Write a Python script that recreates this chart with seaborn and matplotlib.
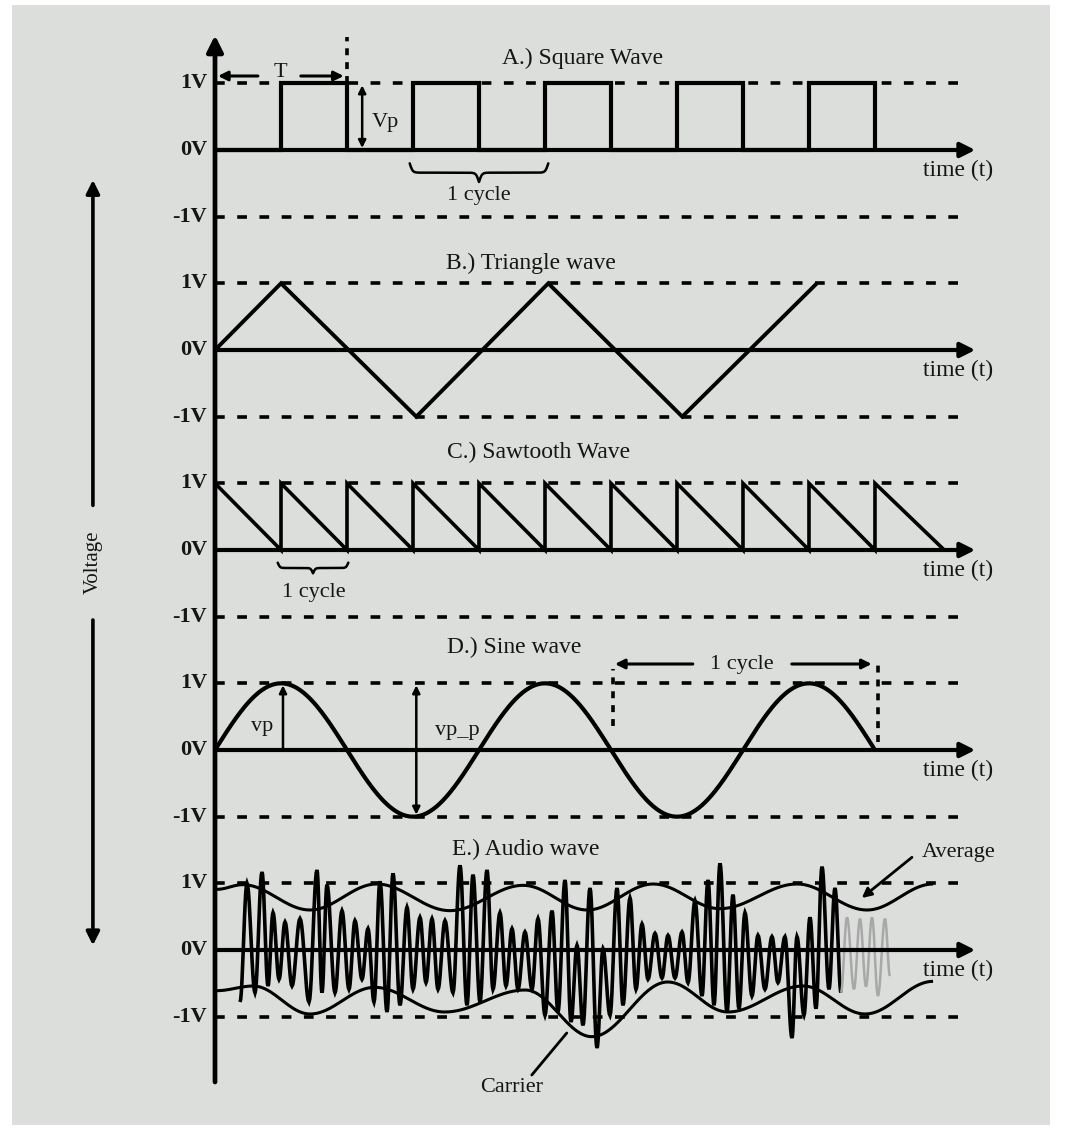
import numpy as np
import matplotlib
matplotlib.use("Agg")
import matplotlib.pyplot as plt
import seaborn as sns

# ---------------- data ----------------
panel_titles = ["A.) Square Wave", "B.) Triangle wave", "C.) Sawtooth Wave",
                "D.) Sine wave", "E.) Audio wave"]
level_labels = ["1V", "0V", "-1V"]
level_values = [1, 0, -1]
panel_offsets = [0, -3, -6, -9, -12]

square_t = [0, 1, 1, 2, 2, 3, 3, 4, 4, 5, 5, 6, 6, 7, 7, 8, 8, 9, 9, 10, 10]
square_v = [0, 0, 1, 1, 0, 0, 1, 1, 0, 0, 1, 1, 0, 0, 1, 1, 0, 0, 1, 1, 0]

triangle_t = [0, 1.0, 3.05, 5.05, 7.08, 9.12]
triangle_v = [0, 1, -1, 1, -1, 1]

saw_t = [0, 1, 1, 2, 2, 3, 3, 4, 4, 5, 5, 6, 6, 7, 7, 8, 8, 9, 9, 10, 10, 11.05]
saw_v = [1, 0, 1, 0, 1, 0, 1, 0, 1, 0, 1, 0, 1, 0, 1, 0, 1, 0, 1, 0, 1, 0]

sine_amplitude = 1.0
sine_period = 4.0
sine_end = 10.0

# audio wave: alternating troughs / peaks (time units, volts)
audio_t = [0.379, 0.485, 0.606, 0.712, 0.803, 0.879, 0.970, 1.061, 1.167, 1.288,
           1.424, 1.545, 1.621, 1.697, 1.818, 1.924, 2.030, 2.121, 2.227, 2.318,
           2.409, 2.500, 2.606, 2.697, 2.803, 2.909, 3.000, 3.106, 3.197, 3.288,
           3.379, 3.485, 3.606, 3.712, 3.818, 3.909, 4.015, 4.121, 4.212, 4.318,
           4.409, 4.500, 4.591, 4.697, 4.803, 4.894, 5.000, 5.106, 5.197, 5.303,
           5.394, 5.485, 5.576, 5.682, 5.788, 5.879, 5.985, 6.091, 6.182, 6.288,
           6.379, 6.470, 6.561, 6.667, 6.773, 6.864, 6.970, 7.076, 7.167, 7.273,
           7.379, 7.470, 7.561, 7.652, 7.758, 7.848, 7.939, 8.030, 8.136, 8.227,
           8.333, 8.439, 8.530, 8.636, 8.742, 8.818, 8.924, 9.015, 9.106, 9.197,
           9.303, 9.394, 9.485]
audio_v = [-0.78, 1.00, -0.64, 1.17, -0.54, 0.56, -0.44, 0.42, -0.54, 0.47,
           -0.78, 1.20, -0.64, 0.98, -0.64, 0.59, -0.59, 0.44, -0.44, 0.32,
           -0.78, 1.03, -0.93, 1.15, -0.83, 0.64, -0.59, 0.49, -0.49, 0.47,
           -0.59, 0.44, -0.64, 1.27, -0.83, 1.13, -0.78, 1.20, -0.59, 0.56,
           -0.54, 0.32, -0.59, 0.27, -0.59, 0.47, -0.98, 0.59, -0.93, 1.05,
           -1.08, 0.07, -1.13, 0.93, -1.47, 0.02, -0.98, 0.93, -0.83, 0.78,
           -0.59, 0.39, -0.44, 0.25, -0.42, 0.22, -0.42, 0.27, -0.49, 0.74,
           -0.69, 1.05, -0.83, 1.30, -0.93, 0.83, -0.88, 0.56, -0.69, 0.22,
           -0.59, 0.20, -0.49, 0.20, -1.32, 0.20, -0.98, 0.49, -0.88, 1.25,
           -0.59, 0.93, -0.64]
audio_faint_t = [9.485, 9.576, 9.682, 9.773, 9.864, 9.955, 10.045, 10.152, 10.227]
audio_faint_v = [-0.64, 0.49, -0.59, 0.47, -0.55, 0.49, -0.69, 0.47, -0.39]

# "Average" envelopes: extrema of the smooth curves
upper_t = [0.03, 0.42, 1.44, 2.45, 3.56, 4.67, 5.64, 6.64, 7.65, 8.82, 9.88, 10.88]
upper_v = [0.91, 0.98, 0.60, 0.99, 0.59, 0.97, 0.60, 0.99, 0.62, 0.99, 0.60, 0.99]
lower_t = [0.03, 0.58, 1.44, 2.42, 3.48, 4.70, 5.71, 6.86, 7.77, 8.91, 9.85, 10.88]
lower_v = [-0.61, -0.54, -0.96, -0.56, -0.93, -0.60, -1.30, -0.48, -0.93, -0.54, -0.96, -0.47]

# ---------------- style ----------------
sns.set_theme(style="white")
plt.rcParams["font.family"] = ["Liberation Serif", "DejaVu Serif"]
plt.rcParams["lines.scale_dashes"] = False
INK = "black"
TXT = "#151515"
BG = "#dcdedc"

fig = plt.figure(figsize=(10.68, 11.40), dpi=100, facecolor="white")
ax = fig.add_axes([12 / 1068, 15 / 1140, 1038 / 1068, 1120 / 1140])
ax.set_facecolor(BG)
for s in ax.spines.values():
    s.set_visible(False)
ax.set_xticks([])
ax.set_yticks([])


def cosine_curve(kt, kv, n=40):
    xs, ys = [], []
    for i in range(len(kt) - 1):
        s = np.linspace(0, 1, n)
        xs.append(kt[i] + (kt[i + 1] - kt[i]) * s)
        ys.append(kv[i] + (kv[i + 1] - kv[i]) * (1 - np.cos(np.pi * s)) / 2)
    return np.concatenate(xs), np.concatenate(ys)


def wave(x, y, off, lw=2.8, color=INK):
    sns.lineplot(x=np.asarray(x, float), y=np.asarray(y, float) + off, ax=ax,
                 sort=False, estimator=None, color=color, lw=lw,
                 solid_joinstyle="miter", solid_capstyle="butt")


def arrow(x0, y0, x1, y1, lw=1.8, ms=14, style="-|>"):
    ax.annotate("", xy=(x1, y1), xytext=(x0, y0),
                arrowprops=dict(arrowstyle=style, lw=lw, color=INK,
                                shrinkA=0, shrinkB=0, mutation_scale=ms))


def brace(x0, x1, ytop, depth, lw=1.8, beta=45):
    half = (x1 - x0) / 2
    xl = np.linspace(0, half, 120)
    yl = 1 / (1 + np.exp(-beta * (xl - xl[0]))) + 1 / (1 + np.exp(-beta * (xl - xl[-1])))
    yl = (yl - yl[0]) / (yl[-1] - yl[0])
    xs = np.concatenate([x0 + xl, x1 - xl[::-1]])
    ys = np.concatenate([yl, yl[::-1]])
    ax.plot(xs, ytop - depth * ys, color=INK, lw=lw)


dash_style = (0, (7, 9))
TEND = 11.26
for k, off in enumerate(panel_offsets):
    for lv in (1, -1):
        ax.plot([0, TEND], [off + lv, off + lv], color=INK, lw=2.6,
                linestyle=dash_style, solid_capstyle="butt")
    arrow(0, off, 11.52, off, lw=3.0, ms=22)
    ax.text(11.26, off - 0.3, "time (t)", ha="center", va="center",
            fontsize=17, color=TXT)
    for lab, lv in zip(level_labels, level_values):
        ax.text(-0.12, off + lv, lab, ha="right", va="center", fontsize=16,
                fontweight="bold", color=TXT)

title_pos = [(4.35, 1.375), (3.50, 1.30), (3.52, 1.465), (3.52, 1.54), (3.59, 1.51)]
for (tx, dy), title, off in zip(title_pos, panel_titles, panel_offsets):
    ax.text(tx, off + dy, title, ha="left", va="center", fontsize=17, color=TXT)

# waves
wave(square_t, square_v, panel_offsets[0], lw=3.0)
wave(triangle_t, triangle_v, panel_offsets[1], lw=2.8)
wave(saw_t, saw_v, panel_offsets[2], lw=2.6)
st = np.linspace(0, sine_end, 600)
wave(st, sine_amplitude * np.sin(2 * np.pi * st / sine_period), panel_offsets[3], lw=3.0)
axx, axy = cosine_curve(audio_t, audio_v, n=12)
wave(axx, axy, panel_offsets[4], lw=2.6)
afx, afy = cosine_curve(audio_faint_t, audio_faint_v, n=12)
wave(afx, afy, panel_offsets[4], lw=1.8, color="#a8a8a8")
ux, uy = cosine_curve(upper_t, upper_v)
lx, ly = cosine_curve(lower_t, lower_v)
wave(ux, uy, panel_offsets[4], lw=2.2)
wave(lx, ly, panel_offsets[4], lw=2.2)

# main vertical axis
arrow(0, -13.98, 0, 1.72, lw=3.4, ms=24)

# Voltage arrow + label
arrow(-1.85, -5.33, -1.85, -0.45, lw=2.6, ms=20)
arrow(-1.85, -7.05, -1.85, -11.93, lw=2.6, ms=20)
ax.text(-1.85, -6.18, "Voltage", rotation=90, ha="center", va="center",
        fontsize=15, color=TXT)

# --- square wave annotations
o = panel_offsets[0]
arrow(0.65, o + 1.11, 0.045, o + 1.11, lw=2.2, ms=14)
arrow(1.30, o + 1.11, 1.95, o + 1.11, lw=2.2, ms=14)
ax.text(0.99, o + 1.17, "T", ha="center", va="center", fontsize=16, color=TXT)
ax.plot([2.0, 2.0], [o + 1.0, o + 1.7], color=INK, lw=2.6, linestyle=(0, (5, 5)))
arrow(2.23, o + 0.03, 2.23, o + 0.97, lw=1.8, ms=11, style="<|-|>")
ax.text(2.58, o + 0.42, "Vp", ha="center", va="center", fontsize=16, color=TXT)
brace(2.95, 5.05, o - 0.2, 0.28)
ax.text(4.0, o - 0.68, "1 cycle", ha="center", va="center", fontsize=16, color=TXT)

# --- sawtooth annotations
o = panel_offsets[2]
brace(0.95, 2.02, o - 0.19, 0.16, beta=60)
ax.text(1.5, o - 0.64, "1 cycle", ha="center", va="center", fontsize=16, color=TXT)

# --- sine annotations
o = panel_offsets[3]
arrow(1.03, o, 1.03, o + 0.97, lw=1.8, ms=11)
ax.text(0.71, o + 0.36, "vp", ha="center", va="center", fontsize=16, color=TXT)
arrow(3.05, o - 0.97, 3.05, o + 0.97, lw=1.8, ms=11, style="<|-|>")
ax.text(3.67, o + 0.30, "vp_p", ha="center", va="center", fontsize=16, color=TXT)
ax.plot([6.03, 6.03], [o + 0.36, o + 1.22], color=INK, lw=2.6, linestyle=(0, (5, 5)))
ax.plot([10.05, 10.05], [o + 0.12, o + 1.37], color=INK, lw=2.6, linestyle=(0, (5, 5)))
arrow(7.24, o + 1.29, 6.06, o + 1.29, lw=2.2, ms=14)
arrow(8.74, o + 1.29, 9.95, o + 1.29, lw=2.2, ms=14)
ax.text(7.98, o + 1.29, "1 cycle", ha="center", va="center", fontsize=16, color=TXT)

# --- audio annotations
o = panel_offsets[4]
ax.text(11.27, o + 1.47, "Average", ha="center", va="center", fontsize=16, color=TXT)
arrow(10.56, o + 1.39, 9.80, o + 0.78, lw=2.0, ms=14)
ax.plot([4.8, 5.33], [o - 1.875, o - 1.245], color=INK, lw=2.0)
ax.text(4.5, o - 2.07, "Carrier", ha="center", va="center", fontsize=16, color=TXT)

ax.set_xlim(-3.076, 12.652)
ax.set_ylim(-14.625, 2.175)

fig.savefig("out.png", dpi=100, facecolor="white")
